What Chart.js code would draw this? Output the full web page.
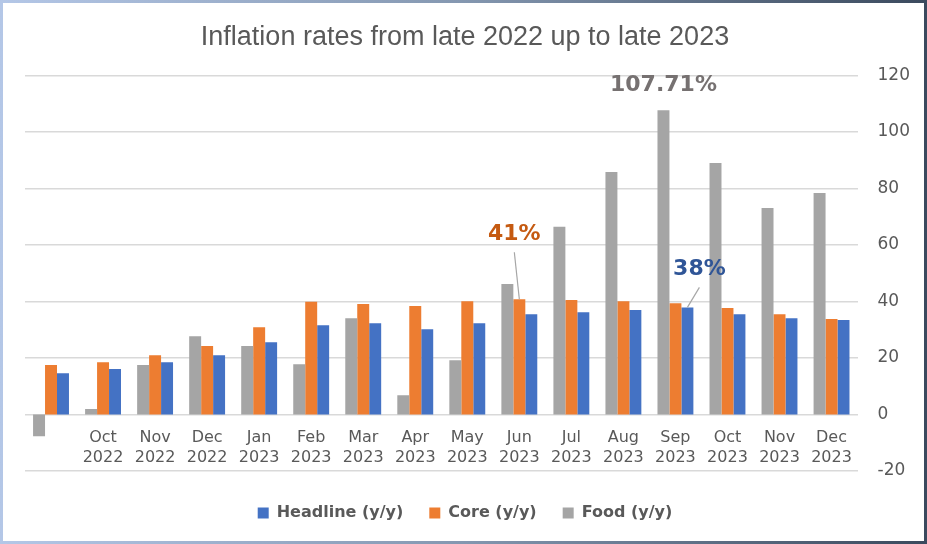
<!DOCTYPE html>
<html>
<head>
<meta charset="utf-8">
<script src="https://cdn.jsdelivr.net/npm/chart.js@4"></script>
<style>
  html, body { margin: 0; padding: 0; background: #fff; }
  #wrap { position: relative; width: 927px; height: 544px; }
  #frame {
    position: absolute; left: 0; top: 0; width: 927px; height: 544px;
    box-sizing: border-box; border: 3px solid;
    border-image: linear-gradient(to right, #b4c7e7, #8497b0 50%, #3b4a5e) 1;
    pointer-events: none;
  }
</style>
</head>
<body>
<div id="wrap">
  <canvas id="chart" width="927" height="544"></canvas>
  <div id="frame"></div>
</div>
<script>
// categories (first month has no label in the original)
const months = [
  ['', ''], ['Oct', '2022'], ['Nov', '2022'], ['Dec', '2022'],
  ['Jan', '2023'], ['Feb', '2023'], ['Mar', '2023'], ['Apr', '2023'],
  ['May', '2023'], ['Jun', '2023'], ['Jul', '2023'], ['Aug', '2023'],
  ['Sep', '2023'], ['Oct', '2023'], ['Nov', '2023'], ['Dec', '2023']
];

// series values, % y/y
const food     = [-7.7, 1.9, 17.5, 27.7, 24.2, 17.8, 34.1, 6.8, 19.2, 46.2, 66.4, 85.8, 107.71, 89.0, 73.1, 78.4];
const core     = [17.5, 18.5, 21.0, 24.2, 30.9, 39.9, 39.1, 38.4, 40.1, 40.8, 40.5, 40.1, 39.4, 37.7, 35.5, 33.8];
const headline = [14.6, 16.1, 18.5, 21.0, 25.6, 31.6, 32.3, 30.2, 32.3, 35.5, 36.2, 37.0, 37.9, 35.5, 34.1, 33.4];

// y axis range
const yMin = -20, yMax = 120, yStep = 20;

// callouts: dataset index, point index, text
const callouts = [
  { ds: 0, idx: 12, text: '107.71%', color: '#767171', dx: 0, dy: -25, line: false },
  { ds: 1, idx: 9, text: '41%', color: '#c55a11', dx: -5, dy: -65, line: true },
  { ds: 2, idx: 12, text: '38%', color: '#2f5597', dx: 12, dy: -38, line: true }
];

const textGrey = '#595959';

// draws the two-line category labels just under the zero line, and the callouts
const labelPlugin = {
  id: 'labels',
  afterDatasetsDraw(chart) {
    const ctx = chart.ctx;
    const x = chart.scales.x, y = chart.scales.y;
    const y0 = y.getPixelForValue(0);
    ctx.save();
    ctx.fillStyle = textGrey;
    ctx.font = '16px "DejaVu Sans"';
    ctx.textAlign = 'center';
    ctx.textBaseline = 'middle';
    months.forEach((m, i) => {
      const px = x.getPixelForValue(i);
      ctx.fillText(m[0], px, y0 + 23);
      ctx.fillText(m[1], px, y0 + 43);
    });

    ctx.font = 'bold 22px "DejaVu Sans"';
    callouts.forEach(c => {
      const bar = chart.getDatasetMeta(c.ds).data[c.idx];
      const tx = bar.x + c.dx, ty = bar.y + c.dy;
      if (c.line) {
        ctx.strokeStyle = '#a6a6a6';
        ctx.lineWidth = 1.2;
        ctx.beginPath();
        ctx.moveTo(tx, ty + 18);
        ctx.lineTo(bar.x, bar.y);
        ctx.stroke();
      }
      ctx.fillStyle = c.color;
      ctx.fillText(c.text, tx, ty);
    });
    ctx.restore();
  }
};

new Chart(document.getElementById('chart'), {
  type: 'bar',
  data: {
    labels: months.map(m => m.join(' ')),
    datasets: [
      { label: 'Food (y/y)', data: food, backgroundColor: '#a5a5a5' },
      { label: 'Core (y/y)', data: core, backgroundColor: '#ed7d31' },
      { label: 'Headline (y/y)', data: headline, backgroundColor: '#4472c4' }
    ]
  },
  options: {
    responsive: false,
    animation: false,
    layout: { padding: { left: 0, right: -3, top: 4, bottom: 13 } },
    datasets: { bar: { categoryPercentage: 0.69, barPercentage: 1 } },
    scales: {
      x: {
        ticks: { display: false },
        grid: { display: false },
        border: { display: false },
        afterFit(scale) { scale.height = 8; }
      },
      // empty spacer on the left, keeps the legend centred on the whole frame
      spacer: {
        type: 'linear',
        position: 'left',
        ticks: { display: false },
        grid: { display: false },
        border: { display: false },
        afterFit(scale) { scale.width = 25; }
      },
      y: {
        position: 'right',
        min: yMin, max: yMax,
        ticks: { stepSize: yStep, padding: 20, color: textGrey, font: { family: 'DejaVu Sans', size: 17 } },
        grid: { color: '#d9d9d9', lineWidth: 1.4, drawTicks: false },
        border: { display: false }
      }
    },
    plugins: {
      title: {
        display: true,
        text: 'Inflation rates from late 2022 up to late 2023',
        color: textGrey,
        font: { family: 'Liberation Sans', size: 27, weight: 'normal' },
        padding: { top: 17, bottom: 22 }
      },
      legend: {
        position: 'bottom',
        reverse: true,
        labels: {
          color: textGrey,
          boxWidth: 11, boxHeight: 11,
          padding: 26,
          font: { family: 'DejaVu Sans', size: 16, weight: 'bold' }
        }
      },
      tooltip: { enabled: false }
    }
  },
  plugins: [labelPlugin]
});
</script>
</body>
</html>
